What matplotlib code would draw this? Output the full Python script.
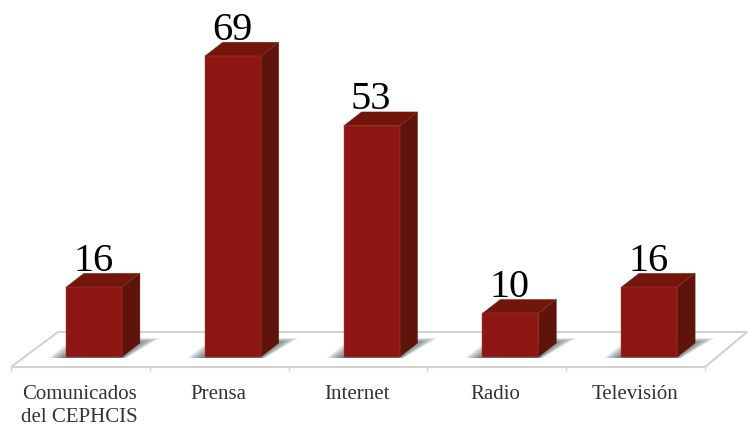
import matplotlib
matplotlib.use('Agg')
import matplotlib.pyplot as plt
from matplotlib.patches import Polygon

categories = ['Comunicados\ndel CEPHCIS', 'Prensa', 'Internet', 'Radio', 'Televisión']
values = [16, 69, 53, 10, 16]

# pixel scale of the picture
W, H = 748, 426
X0, DX = 80.4, 138.8      # floor cell centre of first category, cell width
Y0, DY = 357, 4.36        # bar baseline, pixels per unit

plt.rcParams['font.family'] = ['Liberation Serif', 'DejaVu Serif']

fig = plt.figure(figsize=(W / 100, H / 100), dpi=100)
ax = fig.add_axes([0, 0, 1, 1])
ax.set_xlim(-X0 / DX, (W - X0) / DX)
ax.set_ylim(-(H - Y0) / DY, Y0 / DY)
ax.axis('off')

px = 1 / DX
py = 1 / DY

# floor
fl = [(-0.5, -10 * py), (4.5, -10 * py), (4.5 + 42 * px, 25 * py), (-0.5 + 47 * px, 25 * py)]
ax.add_patch(Polygon(fl, closed=True, fc='white', ec='#d2d2d2', lw=1.5, zorder=1))
for i in range(6):
    ax.plot([i - 0.5, i - 0.5], [-10 * py, -14 * py], color='#d8d8d8', lw=1, zorder=1)

bar_w = 56 * px
shift = 13.5 * px        # bars sit right of the cell centre
dep_x = 18 * px
dep_y = 14 * py

# soft shadows on the floor, built up from translucent layers
for i in range(5):
    xl = i + shift - bar_w / 2
    xr = xl + bar_w
    for k in range(14):
        g = k * 1.5 * px
        h = (19 - k * 0.5) * py
        shadow = [(xl - 17 * px + g, -1 * py), (xr + 4 * px - g * 0.3, -1 * py),
                  (xr + 38 * px - 1.5 * g, h), (xl + 8 * px + g, h)]
        ax.add_patch(Polygon(shadow, closed=True, fc='#2f3b3b', ec='none', alpha=0.085, zorder=2))

# front faces
xs = [i + shift for i in range(5)]
ax.bar(xs, values, width=bar_w, color='#8e1612', edgecolor='#a8483f', linewidth=0.3, zorder=4)

# side and top faces, value labels
for x, v in zip(xs, values):
    xl = x - bar_w / 2
    xr = x + bar_w / 2
    side = [(xr, 0), (xr + dep_x, dep_y), (xr + dep_x, v + dep_y), (xr, v)]
    top = [(xl, v), (xr, v), (xr + dep_x, v + dep_y), (xl + dep_x, v + dep_y)]
    ax.add_patch(Polygon(side, closed=True, fc='#5e130b', ec='#5e130b', lw=0.3, zorder=3))
    ax.add_patch(Polygon(top, closed=True, fc='#72150b', ec='#8a3a30', lw=0.3, zorder=3))
    ax.text(x - 0.5 * px, v + dep_y + 2.5 * py, str(v), ha='center', va='baseline',
            fontsize=29, color='black', zorder=5)

# category labels
for i, c in enumerate(categories):
    ax.text(i - 1 * px, -(385 - Y0) * py, c, ha='center', va='top',
            fontsize=15, color='#333333', linespacing=1.3, zorder=5)

fig.savefig('out.png', dpi=100)
